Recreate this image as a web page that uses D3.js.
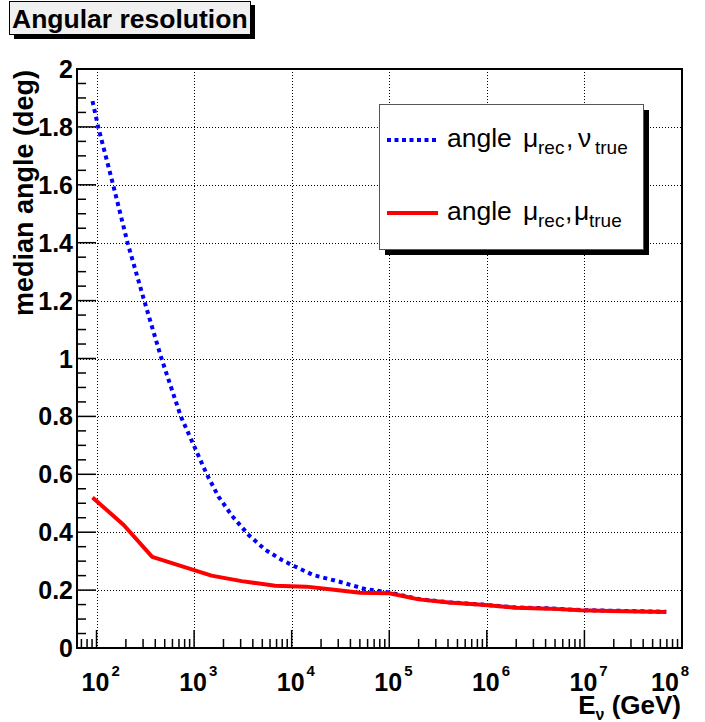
<!DOCTYPE html>
<html><head><meta charset="utf-8">
<script src="https://cdn.jsdelivr.net/npm/d3@7"></script>
<style>
body{margin:0;background:#fff}
text{font-family:"Liberation Sans",Arial,Helvetica,sans-serif}
</style>
</head><body><svg id="c" width="705" height="722"></svg>
<script>
// ---- data ----
const energyNuTrue = [91, 104, 148, 208, 308, 463, 731, 1349, 1778, 2455, 3631, 5370, 7943, 10000, 16600, 30900, 57500, 100000, 200000, 407000, 890000, 2000000, 4370000, 9100000, 18200000, 69000000];
const angleNuTrue  = [1.889, 1.8, 1.6, 1.4, 1.2, 1.0, 0.8, 0.6, 0.523, 0.456, 0.39, 0.339, 0.304, 0.287, 0.252, 0.229, 0.203, 0.192, 0.169, 0.158, 0.150, 0.140, 0.137, 0.131, 0.129, 0.125];
const energyMuTrue = [91, 190, 372, 1000, 1507, 3070, 6760, 14100, 24500, 50100, 100000, 200000, 407000, 890000, 2000000, 4370000, 9100000, 18200000, 69000000];
const angleMuTrue  = [0.52, 0.425, 0.315, 0.269, 0.25, 0.231, 0.215, 0.212, 0.203, 0.191, 0.189, 0.168, 0.157, 0.149, 0.139, 0.136, 0.130, 0.128, 0.124];
const yTickValues = [0, 0.2, 0.4, 0.6, 0.8, 1, 1.2, 1.4, 1.6, 1.8, 2];
const yTickLabels = ["0", "0.2", "0.4", "0.6", "0.8", "1", "1.2", "1.4", "1.6", "1.8", "2"];
const xTickExponents = [2, 3, 4, 5, 6, 7, 8];
const xDomain = [Math.pow(10, 1.8), 1e8];
const yDomain = [0, 2];
const titleText = "Angular resolution";
const yTitle = "median angle (deg)";

// ---- layout ----
const L = 77, R = 682, T = 69, B = 648;
const svg = d3.select("#c");
svg.append("rect").attr("width", 705).attr("height", 722).attr("fill", "#fff");

const x = d3.scaleLog().domain(xDomain).range([L, R]);
const y = d3.scaleLinear().domain(yDomain).range([B, T]);

// grid
const gGrid = svg.append("g").attr("stroke", "#000").attr("stroke-width", 1).attr("stroke-dasharray", "1,2");
xTickExponents.filter(e => x(Math.pow(10, e)) < R - 2).forEach(e => {
  const xx = Math.round(x(Math.pow(10, e))) + 0.5;
  gGrid.append("line").attr("x1", xx).attr("x2", xx).attr("y1", T).attr("y2", B);
});
yTickValues.filter(v => v > 0 && v < 2).forEach(v => {
  const yy = Math.round(y(v)) + 0.5;
  gGrid.append("line").attr("x1", L).attr("x2", R).attr("y1", yy).attr("y2", yy);
});

// curves
const line = d3.line().x(d => x(d[0])).y(d => y(d[1]));
svg.append("path").datum(d3.zip(energyNuTrue, angleNuTrue)).attr("d", line)
  .attr("fill", "none").attr("stroke", "#0000ff").attr("stroke-width", 4).attr("stroke-dasharray", "4,4");
svg.append("path").datum(d3.zip(energyMuTrue, angleMuTrue)).attr("d", line)
  .attr("fill", "none").attr("stroke", "#ff0000").attr("stroke-width", 4).attr("stroke-linejoin", "round");

// frame
svg.append("rect").attr("x", L).attr("y", T).attr("width", R - L).attr("height", B - T)
  .attr("fill", "none").attr("stroke", "#000").attr("stroke-width", 2);

// y ticks
const gT = svg.append("g").attr("stroke", "#000").attr("stroke-width", 1.5);
for (let i = 0; i <= 40; i++) {
  const v = i * 0.05;
  const yy = y(v);
  const major = i % 4 === 0;
  gT.append("line").attr("x1", L).attr("x2", L + (major ? 19 : 9)).attr("y1", yy).attr("y2", yy);
}
// x ticks
for (let d = 1; d <= 8; d++) {
  for (let k = 1; k <= 9; k++) {
    const v = k * Math.pow(10, d);
    if (v < xDomain[0] * 0.999 || v > xDomain[1] * 1.001) continue;
    const xx = x(v);
    gT.append("line").attr("x1", xx).attr("x2", xx).attr("y1", B).attr("y2", B - (k === 1 ? 18 : 9));
  }
}

// y labels
svg.append("g").selectAll("text").data(yTickValues).join("text")
  .attr("x", 73).attr("y", d => y(d) + 9).attr("text-anchor", "end")
  .attr("font-size", 25).attr("font-weight", "bold").text((d, i) => yTickLabels[i]);

// x labels
xTickExponents.forEach((e, i) => {
  const xx = x(Math.pow(10, e));
  const g = svg.append("g");
  const t = g.append("text").attr("y", 691).attr("font-size", 25).attr("font-weight", "bold").text("10");
  const w = t.node().getComputedTextLength();
  let x0 = xx - w / 2 - 1;
  if (i === xTickExponents.length - 1) x0 = 651;
  t.attr("x", x0);
  g.append("text").attr("x", x0 + w + 2).attr("y", 676).attr("font-size", 15).attr("font-weight", "bold").text(String(e));
});

// axis titles
const xt = svg.append("text").attr("x", 681).attr("y", 714).attr("text-anchor", "end")
  .attr("font-size", 26).attr("font-weight", "bold");
xt.append("tspan").text("E");
xt.append("tspan").attr("font-size", 16).attr("dy", 6).text("\u03bd");
xt.append("tspan").attr("dy", -6).text(" (GeV)");

svg.append("text").attr("transform", "translate(33,70) rotate(-90)").attr("text-anchor", "end")
  .attr("font-size", 27).attr("font-weight", "bold").text(yTitle);

// title box
svg.append("rect").attr("x", 14).attr("y", 5).attr("width", 241).attr("height", 34).attr("fill", "#000");
svg.append("rect").attr("x", 9.5).attr("y", 1.5).attr("width", 241).attr("height", 33)
  .attr("fill", "#f0f0f0").attr("stroke", "#000").attr("stroke-width", 1);
svg.append("text").attr("x", 12).attr("y", 28).attr("font-size", 26.5).attr("font-weight", "bold").text(titleText);

// legend
svg.append("rect").attr("x", 385).attr("y", 110).attr("width", 264).attr("height", 145).attr("fill", "#000");
svg.append("rect").attr("x", 379.5).attr("y", 104.5).attr("width", 264).attr("height", 145)
  .attr("fill", "#fff").attr("stroke", "#555").attr("stroke-width", 1);
svg.append("line").attr("x1", 387).attr("x2", 438).attr("y1", 140).attr("y2", 140)
  .attr("stroke", "#0000ff").attr("stroke-width", 4).attr("stroke-dasharray", "4,3.5");
svg.append("line").attr("x1", 387).attr("x2", 438).attr("y1", 213).attr("y2", 213)
  .attr("stroke", "#ff0000").attr("stroke-width", 4);

function legendText(yb, parts) {
  const t = svg.append("text").attr("y", yb).attr("font-size", 26.5);
  parts.forEach(p => {
    const s = t.append("tspan").attr("x", p.x).attr("y", yb + (p.sub ? 7 : 0)).text(p.t);
    if (p.sub) s.attr("font-size", 19);
  });
}
legendText(147, [
  {t: "angle", x: 447}, {t: "\u03bc", x: 523}, {t: "rec", x: 538, sub: true},
  {t: ",", x: 566}, {t: "\u03bd", x: 578}, {t: "true", x: 595, sub: true}
]);
legendText(220, [
  {t: "angle", x: 447}, {t: "\u03bc", x: 523}, {t: "rec", x: 538, sub: true},
  {t: ",", x: 565}, {t: "\u03bc", x: 574}, {t: "true", x: 589, sub: true}
]);
</script></body></html>
